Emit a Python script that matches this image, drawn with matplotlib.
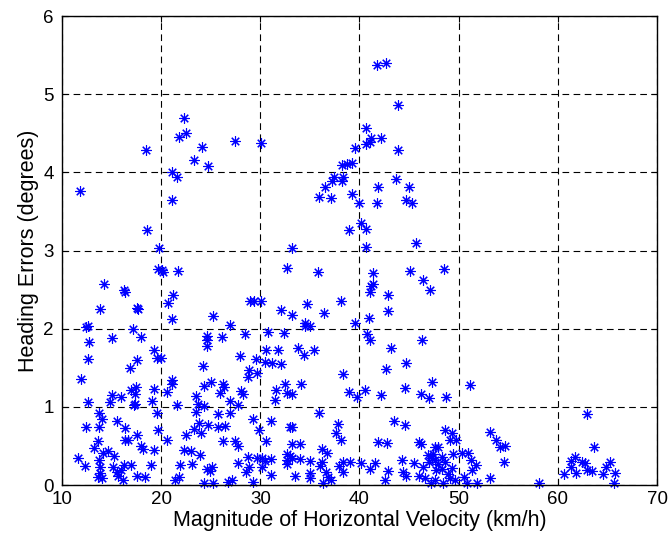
import matplotlib
matplotlib.use('Agg')
import matplotlib.pyplot as plt

# horizontal velocity magnitude (km/h) and heading error (deg)
velocity = [
    11.81, 18.44, 18.54, 19.81, 21.12, 21.6, 21.12, 21.83, 22.5, 22.27, 23.27, 24.08, 24.75, 27.44, 30.06,
    41.72, 42.72, 43.84, 40.65, 41.12, 42.16, 40.65, 41.05, 39.54, 43.84, 38.26, 38.7, 39.2, 37.42, 38.36,
    37.25, 38.26, 36.51, 35.9, 37.11, 39.27, 39.97, 41.82, 43.73, 45.0, 41.72, 44.68, 45.25, 40.14, 40.65,
    38.93, 45.69, 33.22, 40.65,
    19.71, 14.23, 16.28, 16.4, 13.83, 17.53, 17.7, 12.65, 12.42, 17.13, 17.96, 15.07, 12.75, 19.27, 19.54,
    12.65, 17.6, 16.84, 11.92, 17.5, 17.0, 19.3, 15.07, 15.94, 17.36, 14.84, 12.65, 17.36, 19.04, 17.3,
    13.76, 19.6, 14.0, 15.51, 12.39, 13.76, 16.35, 19.64, 17.6, 16.35, 16.69, 13.66, 17.96, 18.2, 13.23,
    19.27, 14.1, 14.67, 15.27, 11.58, 12.32, 13.83, 13.76, 15.1, 16.3, 16.96, 18.94, 15.51, 16.0, 13.83,
    14.0, 15.67, 16.17, 17.6, 18.37, 13.6,
    20.11, 20.2, 21.66, 21.22, 20.72, 21.05, 25.25, 26.94, 28.95, 29.4, 28.45, 24.58, 24.58, 24.58, 26.1,
    19.98, 27.94, 29.56, 24.25, 28.89, 29.7, 28.79, 21.05, 21.05, 20.55, 25.02, 24.35, 26.25, 26.35, 25.9,
    28.1, 28.3, 23.51, 26.94, 23.75, 24.35, 27.78, 21.55, 23.48, 25.72, 26.99, 29.29, 23.84, 24.74, 25.69,
    26.43, 23.34, 24.01, 22.5, 20.55, 26.27, 27.44, 27.78, 22.33, 23.0, 23.9, 28.8, 29.63, 21.89, 23.14,
    24.58, 25.08, 24.9, 27.78, 28.88, 28.6, 21.39, 21.8, 24.35, 25.25, 26.76, 27.1, 29.29,
    32.65, 35.84, 30.06, 34.67, 38.12, 32.05, 33.2, 36.45, 34.5, 35.0, 34.5, 39.5, 30.74, 32.4, 30.53,
    31.8, 33.83, 35.43, 34.43, 30.43, 31.17, 32.05, 38.37, 32.48, 34.1, 31.54, 32.65, 33.2, 38.96, 39.7,
    31.5, 35.93, 31.07, 29.89, 32.99, 33.2, 37.83, 37.66, 38.1, 30.53, 33.2, 34.05, 36.2, 36.7, 32.72,
    32.99, 30.13, 30.47, 31.07, 30.13, 32.72, 33.2, 34.05, 35.05, 36.2, 36.05, 38.37, 39.0, 37.9, 32.65,
    38.3, 36.6, 31.07, 33.5, 35.05, 35.05, 36.8, 36.3, 37.1,
    41.38, 45.08, 48.51, 46.36, 47.1, 41.38, 41.2, 41.05, 42.83, 42.9, 41.0, 40.72, 41.05, 46.26, 43.13,
    44.7, 42.63, 47.3, 40.54, 44.57, 42.15, 46.2, 47.0, 48.68, 43.5, 44.57, 41.82, 42.73, 46.0, 46.2,
    48.6, 49.3, 49.1, 47.6, 47.9, 49.45, 40.2, 41.05, 41.55, 42.9, 42.6, 44.24, 44.4, 44.7, 45.5,
    46.4, 46.0, 46.6, 46.9, 47.3, 47.0, 47.6, 47.9, 48.3, 48.6, 48.3, 48.9, 49.3, 49.1, 47.2,
    47.6, 48.45, 49.6, 47.7, 47.4,
    51.13, 49.78, 53.15, 53.8, 54.2, 54.7, 54.6, 50.29, 50.9, 51.2, 51.7, 51.3, 50.5, 50.8, 51.8,
    53.2, 58.08,
    62.99, 63.66, 61.7, 61.3, 62.4, 62.7, 61.3, 60.6, 61.8, 62.9, 63.4, 64.6, 64.9, 65.25, 65.8,
    65.7,
]
heading_error = [
    3.76, 4.28, 3.26, 3.03, 4.01, 3.94, 3.64, 4.45, 4.50, 4.70, 4.16, 4.33, 4.08, 4.40, 4.37,
    5.37, 5.40, 4.86, 4.57, 4.44, 4.44, 4.36, 4.39, 4.31, 4.28, 4.09, 4.11, 4.12, 3.94, 3.94,
    3.89, 3.89, 3.81, 3.68, 3.67, 3.72, 3.61, 3.81, 3.91, 3.81, 3.61, 3.65, 3.61, 3.35, 3.28,
    3.26, 3.10, 3.03, 3.05,
    2.76, 2.57, 2.49, 2.47, 2.25, 2.27, 2.25, 2.03, 2.02, 1.99, 1.89, 1.88, 1.83, 1.73, 1.62,
    1.61, 1.60, 1.50, 1.35, 1.26, 1.21, 1.23, 1.15, 1.12, 1.16, 1.06, 1.06, 1.04, 1.08, 1.02,
    0.92, 0.92, 0.84, 0.82, 0.74, 0.74, 0.73, 0.71, 0.64, 0.57, 0.58, 0.56, 0.50, 0.46, 0.47,
    0.45, 0.41, 0.44, 0.37, 0.34, 0.24, 0.23, 0.32, 0.23, 0.26, 0.26, 0.26, 0.17, 0.19, 0.15,
    0.09, 0.11, 0.07, 0.12, 0.10, 0.10,
    2.75, 2.73, 2.74, 2.43, 2.33, 2.12, 2.16, 2.05, 2.36, 2.36, 1.93, 1.91, 1.86, 1.78, 1.89,
    1.63, 1.65, 1.61, 1.52, 1.47, 1.43, 1.38, 1.34, 1.29, 1.19, 1.32, 1.27, 1.29, 1.25, 1.18,
    1.20, 1.17, 1.14, 1.07, 1.04, 1.01, 1.02, 1.02, 0.94, 0.91, 0.92, 0.85, 0.79, 0.77, 0.74,
    0.76, 0.72, 0.67, 0.64, 0.58, 0.56, 0.56, 0.50, 0.45, 0.43, 0.39, 0.36, 0.35, 0.26, 0.27,
    0.21, 0.23, 0.18, 0.28, 0.23, 0.17, 0.07, 0.10, 0.03, 0.03, 0.04, 0.07, 0.04,
    2.77, 2.72, 2.35, 2.32, 2.35, 2.24, 2.17, 2.20, 2.07, 2.03, 2.03, 2.07, 1.96, 1.94, 1.73,
    1.73, 1.75, 1.73, 1.66, 1.58, 1.56, 1.55, 1.42, 1.29, 1.29, 1.21, 1.18, 1.17, 1.19, 1.13,
    1.09, 0.92, 0.82, 0.71, 0.74, 0.74, 0.78, 0.67, 0.58, 0.56, 0.53, 0.53, 0.46, 0.41, 0.40,
    0.37, 0.34, 0.31, 0.33, 0.23, 0.32, 0.34, 0.33, 0.31, 0.30, 0.24, 0.30, 0.29, 0.24, 0.27,
    0.17, 0.17, 0.13, 0.12, 0.15, 0.09, 0.10, 0.02, 0.06,
    2.71, 2.74, 2.76, 2.62, 2.50, 2.57, 2.54, 2.47, 2.43, 2.23, 2.14, 1.93, 1.86, 1.85, 1.75,
    1.56, 1.48, 1.32, 1.21, 1.24, 1.15, 1.17, 1.11, 1.12, 0.82, 0.77, 0.55, 0.54, 0.55, 0.53,
    0.70, 0.66, 0.58, 0.49, 0.49, 0.40, 0.28, 0.21, 0.28, 0.18, 0.07, 0.32, 0.17, 0.12, 0.28,
    0.23, 0.12, 0.09, 0.38, 0.34, 0.29, 0.32, 0.27, 0.36, 0.30, 0.20, 0.14, 0.22, 0.09, 0.03,
    0.06, 0.03, 0.06, 0.19, 0.40,
    1.28, 0.57, 0.68, 0.57, 0.49, 0.50, 0.30, 0.41, 0.41, 0.32, 0.26, 0.19, 0.10, 0.03, 0.02,
    0.09, 0.02,
    0.91, 0.49, 0.36, 0.31, 0.30, 0.28, 0.23, 0.14, 0.16, 0.19, 0.18, 0.14, 0.23, 0.30, 0.16,
    0.02,
]

plt.rcParams['font.family'] = ['Liberation Sans', 'DejaVu Sans']

fig = plt.figure(figsize=(6.7, 5.43), dpi=100)
ax = fig.add_axes([0.0925, 0.1068, 0.8881, 0.8637])

ax.plot(velocity, heading_error, linestyle='none', marker=(8, 2, 0),
        markersize=7.5, markeredgewidth=0.8, color='#0000ff', clip_on=False)

ax.set_xlim(10, 70)
ax.set_ylim(0, 6)
ax.set_xticks(range(10, 71, 10))
ax.set_yticks(range(0, 7))
ax.grid(True, color='black', linestyle=(0, (6, 4)), linewidth=0.8)
ax.set_axisbelow(True)
ax.tick_params(direction='in', labelsize=13.5, length=4, top=True, right=True)
ax.tick_params(axis='x', pad=4.5)
ax.tick_params(axis='y', pad=6)
for s in ax.spines.values():
    s.set_linewidth(1.0)

ax.set_xlabel('Magnitude of Horizontal Velocity (km/h)', fontsize=15.5, labelpad=1)
ax.set_ylabel('Heading Errors (degrees)', fontsize=15.5, labelpad=3)

fig.savefig('out.png', dpi=100)
